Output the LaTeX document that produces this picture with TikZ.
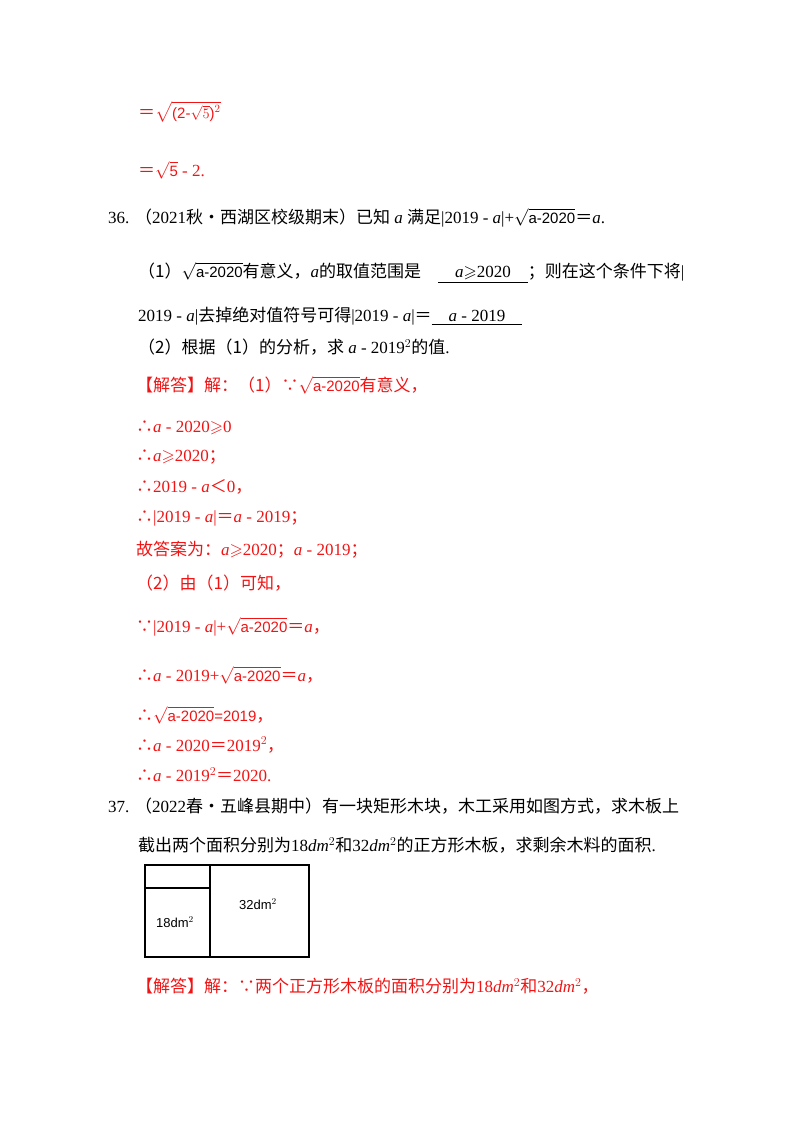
\documentclass[tikz,border=0pt]{standalone}
\usepackage{amssymb}
\usepackage{fontspec}
\setmainfont{Liberation Serif}
\newfontfamily\cjk{Noto Sans CJK SC}
\newfontfamily\sff{Liberation Sans}
\definecolor{rd}{RGB}{240,20,20}
\newcommand{\rt}[1]{$\sqrt{\mbox{\sff\fontsize{15}{15}\selectfont #1}}$}
\newcommand{\ai}{\textit{a}}
\newcommand{\so}{{\cjk ∴}}
\newcommand{\be}{{\cjk ∵}}
\newcommand{\eq}{{\cjk ＝}}
\begin{document}
\begin{tikzpicture}[x=1pt,y=-1pt,
  t/.style={anchor=west,inner sep=0pt,font=\fontsize{17}{19}\selectfont},
  r/.style={t,text=rd}]
\useasboundingbox (0,0) rectangle (800,1132);
\node[r] (l1) at (138,112) {\eq\rt{(2-$\sqrt{5}$)$^2$}};
\node[r] (l2) at (138,170) {\eq\rt{5} - 2.};
\node[t] (l3) at (108,218) {36. {\cjk（}2021{\cjk 秋•西湖区校级期末）已知} \ai{} {\cjk 满足}|2019 - \ai|+\rt{a-2020}\eq{\ai}.};
\node[t] (l4) at (138,273) {{\cjk（1）}\rt{a-2020}{\cjk 有意义，}\ai{\cjk 的取值范围是}\quad\underline{\quad\ai$\geqslant$2020\quad}{\cjk ；则在这个条件下将}|};
\node[t] (l5) at (138,316) {2019 - \ai|{\cjk 去掉绝对值符号可得}|2019 - \ai|\eq\underline{\quad\ai{} - 2019\quad}};
\node[t] (l6) at (138,347) {{\cjk（2）根据（1）的分析，求} \ai{} - 2019$^2${\cjk 的值}.};
\node[r] (l7) at (136,385) {{\cjk【解答】解：（1）}\be\rt{a-2020}{\cjk 有意义，}};
\node[r] (l8) at (136,428) {\so\ai{} - 2020$\geqslant$0};
\node[r] (l9) at (136,457) {\so\ai$\geqslant$2020{\cjk ；}};
\node[r] (l10) at (136,487) {\so 2019 - \ai{\cjk ＜}0{\cjk ，}};
\node[r] (l11) at (136,518) {\so|2019 - \ai|\eq\ai{} - 2019{\cjk ；}};
\node[r] (l12) at (136,550) {{\cjk 故答案为：}\ai$\geqslant$2020{\cjk ；}\ai{} - 2019{\cjk ；}};
\node[r] (l13) at (136,583) {{\cjk（2）由（1）可知，}};
\node[r] (l14) at (136,627) {\be|2019 - \ai|+\rt{a-2020}\eq\ai{\cjk ，}};
\node[r] (l15) at (136,675) {\so\ai{} - 2019+\rt{a-2020}\eq\ai{\cjk ，}};
\node[r] (l16) at (136,715) {\so\rt{a-2020}{\sff\fontsize{15}{15}\selectfont =2019}{\cjk ，}};
\node[r] (l17) at (136,745) {\so\ai{} - 2020\eq 2019$^2${\cjk ，}};
\node[r] (l18) at (136,775) {\so\ai{} - 2019$^2$\eq 2020.};
\node[t] (l19) at (108,806) {37. {\cjk（}2022{\cjk 春•五峰县期中）有一块矩形木块，木工采用如图方式，求木板上}};
\node[t] (l20) at (138,845) {{\cjk 截出两个面积分别为}18\textit{dm}$^2${\cjk 和}32\textit{dm}$^2${\cjk 的正方形木板，求剩余木料的面积}.};
\draw[line width=1.2pt] (145,865) rectangle (309,957);
\draw[line width=1.2pt] (210,865) -- (210,957);
\draw[line width=1.2pt] (145,888) -- (210,888);
\node[font=\sff\fontsize{13}{13}\selectfont] (s1) at (175,922) {18dm$^2$};
\node[font=\sff\fontsize{13}{13}\selectfont] (s2) at (258,904) {32dm$^2$};
\node[r] (l21) at (136,986) {{\cjk【解答】解：}\be{\cjk 两个正方形木板的面积分别为}18\textit{dm}$^2${\cjk 和}32\textit{dm}$^2${\cjk ，}};
\end{tikzpicture}
\end{document}
